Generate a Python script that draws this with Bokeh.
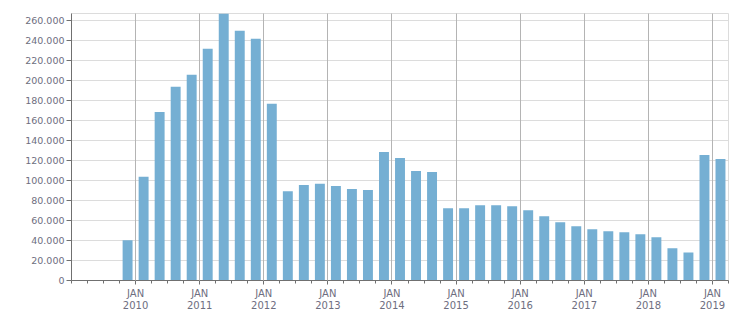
from bokeh.plotting import figure
from bokeh.models import (ColumnDataSource, FixedTicker, SingleIntervalTicker,
                          CustomJSTickFormatter, Range1d)
from bokeh.embed import file_html
from bokeh.resources import INLINE

# Quarterly data, Q4 2009 .. Q1 2019
years =    [2009] + [y for y in range(2010, 2019) for _ in range(4)] + [2019]
quarters = [4] + [q for _ in range(2010, 2019) for q in (1, 2, 3, 4)] + [1]
values = [
    40200,
    103800, 168800, 194000, 206000,
    232000, 267300, 250000, 242000,
    177000, 89400, 95500, 96800,
    94500, 91500, 90500, 128600,
    122600, 109500, 108500, 72400,
    72400, 75400, 75400, 74400,
    70400, 64300, 58300, 54300,
    51300, 49200, 48200, 46200,
    43200, 32200, 28100, 125600,
    121600,
]
year_ticks = list(range(2010, 2020))
tick_labels = {y: "JAN\n%d" % y for y in year_ticks}

x = [y + (q - 0.5) / 4.0 for y, q in zip(years, quarters)]
src = ColumnDataSource(dict(x=x, v=values))

text_color = "#6e6e80"
font = "DejaVu Sans"

p = figure(width=751, height=313, output_backend="svg", toolbar_location=None,
           x_range=Range1d(2009.0, 2019.25), y_range=Range1d(0, max(values)),
           min_border_left=71, min_border_right=23, min_border_top=13,
           min_border_bottom=32)

p.vbar(x="x", top="v", width=0.25 * 0.62, source=src,
       fill_color="#75afd3", line_color=None)

p.outline_line_color = "#dcdcdc"
p.background_fill_color = "white"
p.border_fill_color = "white"

# x axis
minor = [2009 + i / 4.0 for i in range(0, 42)]
p.xaxis.ticker = FixedTicker(ticks=year_ticks, minor_ticks=minor)
p.xaxis.major_label_overrides = tick_labels
p.xaxis.axis_line_color = "#707070"
p.xaxis.major_tick_line_color = "#707070"
p.xaxis.minor_tick_line_color = "#707070"
p.xaxis.major_tick_in = 0
p.xaxis.major_tick_out = 4
p.xaxis.minor_tick_in = 0
p.xaxis.minor_tick_out = 3
p.xaxis.major_label_text_font = font
p.xaxis.major_label_text_font_size = "10px"
p.xaxis.major_label_text_color = text_color
p.xaxis.major_label_text_line_height = 1.1
p.xaxis.major_label_standoff = 3

# y axis
p.yaxis.ticker = SingleIntervalTicker(interval=20000, num_minor_ticks=0)
p.yaxis.formatter = CustomJSTickFormatter(code="""
return Math.round(tick).toString().replace(/\\B(?=(\\d{3})+(?!\\d))/g, '.');
""")
p.yaxis.axis_line_color = "#707070"
p.yaxis.major_tick_line_color = "#707070"
p.yaxis.minor_tick_line_color = None
p.yaxis.major_tick_in = 0
p.yaxis.major_tick_out = 5
p.yaxis.major_label_text_font = font
p.yaxis.major_label_text_font_size = "9.5px"
p.yaxis.major_label_text_color = text_color
p.yaxis.major_label_standoff = 2

# grids
p.xgrid.ticker = FixedTicker(ticks=year_ticks)
p.xgrid.grid_line_color = "#b4b4b4"
p.xgrid.level = "overlay"
p.ygrid.grid_line_color = "#dcdcdc"

open("out.html", "w").write(file_html(p, INLINE))
